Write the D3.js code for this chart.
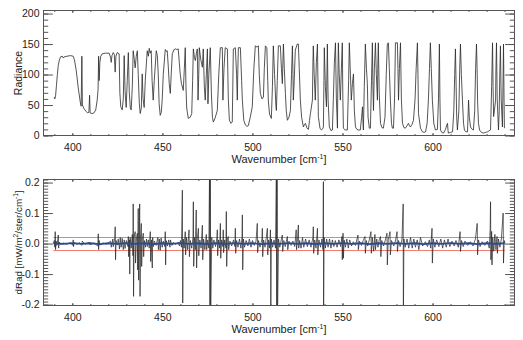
<!DOCTYPE html>
<html><head><meta charset="utf-8">
<script src="https://cdn.jsdelivr.net/npm/d3@7"></script>
<style>
body{margin:0;background:#fff}
svg text{font-family:"Liberation Sans",Arial,Helvetica,sans-serif;fill:#222}
</style>
</head><body>
<svg id="c" width="523" height="340"></svg>
<script>
// ---------- data ----------
const xMajorTicks = [400, 450, 500, 550, 600];
const xMajorLabels = ["400", "450", "500", "550", "600"];
const radianceTicks = [0, 50, 100, 150, 200];
const radianceTickLabels = ["0", "50", "100", "150", "200"];
const dRadTicks = [-0.2, -0.1, 0.0, 0.1, 0.2];
const dRadTickLabels = ["-0.2", "-0.1", "0.0", "0.1", "0.2"];
const thresholdLevels = [-0.02, 0.02];
const thresholdSpan = [389.5, 640];

// observed radiance spectrum [wavenumber, radiance]
const radianceSpectrum = [
[389.9,63],[390.3,60],[390.7,65],[391.2,82],[391.7,100],[392.2,115],[392.8,124],[393.5,129],[394.5,130],[395.0,127],[395.5,129],[397.0,130],[399.0,131],[400.5,130],[401.2,124],[402.2,106],[403.3,78],[404.4,55],[404.9,48],[405.3,130],[405.6,50],[406.5,44],[407.5,40],[408.5,37],[409.2,38],[409.6,66],[409.9,37],[411.0,36],[412.0,37],[413.0,42],[413.8,58],[414.3,75],[414.6,130],[414.9,90],[415.3,120],[415.8,130],[416.6,134],[418.3,135],[420.5,135],[421.3,127],[421.6,120],[422.0,131],[422.7,136],[423.3,133],[423.8,104],[424.2,130],[424.9,136],[426.0,134],[426.4,70],[426.9,47],[427.7,42],[428.3,60],[428.8,131],[429.3,72],[429.9,46],[430.5,90],[431.1,136],[431.6,72],[432.2,45],[432.7,42],[433.3,80],[433.8,139],[434.4,125],[434.9,111],[435.5,130],[436.1,139],[436.6,100],[437.2,52],[437.7,36],[438.3,45],[438.8,101],[439.3,60],[439.9,46],[440.5,90],[441.6,139],[442.2,130],[442.7,143],[443.2,135],[443.8,139],[444.3,90],[444.9,58],[445.5,90],[446.6,139],[447.2,131],[447.7,101],[448.2,52],[448.8,33],[449.4,38],[449.9,58],[450.5,100],[451.6,141],[452.2,138],[452.7,139],[453.3,112],[453.8,85],[454.4,69],[454.9,100],[455.5,134],[456.5,141],[457.2,142],[458.0,141],[458.8,142],[459.4,120],[459.9,101],[460.6,85],[461.6,74],[462.2,110],[462.7,144],[463.1,80],[463.5,45],[464.4,28],[465.5,30],[466.3,36],[466.8,90],[467.2,142],[467.8,128],[468.3,123],[468.9,135],[469.4,142],[469.8,58],[470.2,100],[470.5,144],[471.3,125],[472.2,112],[472.7,142],[473.3,80],[473.8,58],[474.4,100],[475.0,142],[475.3,52],[475.8,100],[476.6,144],[477.2,70],[477.8,30],[478.3,22],[479.2,28],[480.5,41],[481.3,100],[482.2,144],[483.3,144],[483.6,58],[484.2,110],[484.9,144],[486.1,142],[486.6,60],[487.2,25],[488.0,20],[488.8,22],[489.1,80],[489.4,142],[490.5,144],[491.2,100],[491.6,58],[491.9,110],[492.2,144],[493.3,144],[494.0,90],[494.4,58],[495.2,25],[496.1,17],[497.0,15],[497.7,16],[498.8,30],[499.9,47],[500.8,110],[501.6,147],[502.5,145],[503.3,147],[503.8,100],[504.4,69],[505.3,60],[506.1,63],[506.6,110],[507.2,147],[508.0,144],[508.5,90],[508.8,58],[509.5,35],[510.5,28],[511.1,80],[511.6,147],[512.3,100],[513.0,50],[513.3,41],[513.8,90],[514.4,147],[515.5,147],[516.1,110],[516.6,85],[517.0,130],[517.2,150],[517.7,110],[518.3,69],[518.8,40],[519.4,25],[520.3,30],[521.1,41],[521.7,100],[522.2,147],[522.5,100],[522.7,58],[523.2,90],[523.8,140],[524.9,150],[525.5,150],[526.0,110],[526.6,58],[527.3,30],[528.3,14],[528.9,18],[529.4,20],[530.3,12],[531.1,10],[531.7,25],[532.2,36],[533.3,58],[533.6,120],[533.8,147],[534.3,100],[534.9,58],[535.5,120],[536.1,150],[536.4,80],[536.6,31],[537.5,12],[538.3,9],[539.0,11],[539.4,14],[539.7,90],[539.9,144],[540.5,80],[541.1,47],[541.4,110],[541.6,150],[542.0,60],[542.7,14],[543.6,8],[544.4,9],[544.9,58],[545.5,120],[546.1,152],[546.6,60],[547.2,12],[547.4,80],[547.7,152],[548.2,100],[548.8,58],[549.4,110],[549.9,152],[550.2,60],[550.5,12],[551.5,9],[552.7,9],[553.4,90],[553.8,152],[554.4,100],[554.9,58],[555.5,85],[556.1,101],[556.6,40],[557.2,14],[558.0,10],[558.8,9],[559.9,9],[560.6,30],[561.1,47],[561.4,20],[561.6,9],[562.1,80],[562.7,150],[563.3,110],[563.8,85],[564.2,30],[564.9,12],[565.5,12],[566.1,90],[566.6,152],[566.9,80],[567.2,41],[567.7,110],[568.3,152],[568.8,100],[569.4,58],[569.6,110],[569.9,152],[570.4,70],[571.1,20],[571.9,13],[572.7,12],[573.6,30],[574.3,100],[574.9,150],[575.5,152],[576.0,110],[576.6,58],[577.2,20],[577.7,12],[578.3,12],[578.9,60],[579.4,152],[580.5,152],[580.8,110],[581.1,58],[581.6,110],[582.2,152],[582.7,60],[583.3,20],[584.1,13],[584.9,12],[585.8,16],[586.6,20],[587.2,16],[587.7,14],[588.6,18],[589.4,25],[590.3,60],[590.9,110],[591.6,152],[591.9,100],[592.2,36],[593.3,12],[594.4,6],[595.3,5],[596.1,6],[597.0,20],[597.7,58],[598.3,110],[598.8,152],[599.3,110],[599.9,58],[600.7,20],[601.6,9],[602.7,10],[603.3,60],[603.8,150],[604.1,60],[604.4,9],[605.2,5],[606.1,4],[607.2,10],[608.0,18],[608.3,20],[608.6,8],[608.8,4],[610.0,5],[611.1,6],[611.8,40],[612.3,100],[612.7,142],[613.1,80],[613.4,30],[613.8,9],[614.6,40],[615.1,110],[615.5,150],[616.0,100],[616.6,58],[617.2,20],[617.7,9],[618.5,6],[619.4,6],[619.8,40],[620.0,58],[620.4,30],[621.1,14],[622.0,10],[622.7,9],[623.4,40],[623.9,110],[624.4,150],[624.8,100],[625.0,58],[625.5,20],[626.1,9],[627.2,5],[628.3,4],[629.4,5],[630.5,6],[631.5,8],[632.2,9],[632.8,80],[633.3,152],[633.6,80],[633.9,31],[634.5,45],[635.0,58],[635.2,110],[635.5,152],[635.9,60],[636.6,9],[637.0,40],[637.4,110],[637.7,147],[638.1,60],[638.8,14],[639.1,80],[639.4,150],[639.7,60],[639.9,12]
];

// radiance residual [wavenumber, dRad]
const residualSpectrum = [
[389.5,0],[390.0,0.01],[390.3,-0.012],[390.5,0.039],[390.7,-0.02],[391.0,0.008],[391.4,-0.006],[392.0,0.015],[392.2,0.028],[392.4,-0.015],[392.7,0.005],[393.5,-0.003],[395,0.002],[397,-0.002],[399,0.003],[400.2,-0.006],[400.5,0.012],[400.7,-0.01],[401,0.004],[402.5,-0.003],[404,0.003],[405.3,-0.006],[405.5,0.008],[407,-0.002],[409.6,0.004],[409.8,-0.004],[412,0.002],[414.2,-0.008],[414.4,0.032],[414.6,-0.02],[414.9,0.01],[415.3,-0.005],[417,0.002],[419,-0.002],[421.3,0.008],[421.6,-0.012],[422.5,0.015],[422.7,-0.01],[423.6,0.02],[423.8,0.055],[424.0,-0.053],[424.3,0.01],[425,-0.005],[425.5,0.015],[426.2,-0.018],[426.6,0.02],[427.1,-0.012],[427.7,0.017],[428.3,-0.02],[428.8,0.012],[429.3,-0.016],[430,0.01],[430.9,-0.01],[431.1,0.023],[431.3,-0.043],[431.7,0.012],[431.9,-0.10],[432.1,0.02],[432.7,-0.015],[433.3,0.03],[433.7,-0.04],[433.8,0.13],[434.0,-0.173],[434.3,0.02],[434.9,0.039],[435.1,-0.064],[435.6,0.015],[436.1,0.034],[436.3,-0.086],[436.6,0.115],[436.8,-0.12],[437.2,0.02],[437.4,0.13],[437.6,-0.173],[437.9,0.02],[438.3,0.066],[438.5,-0.075],[438.9,0.015],[439.4,0.034],[439.6,-0.043],[440.0,0.01],[440.6,-0.012],[441.2,0.015],[441.6,-0.01],[442.2,0.012],[442.7,-0.015],[443.3,0.039],[443.5,-0.059],[443.9,0.012],[444.4,-0.08],[444.6,0.02],[445,-0.01],[445.6,0.008],[446.5,-0.006],[447.5,0.02],[447.8,-0.02],[448.3,0.015],[448.8,-0.022],[449.3,0.018],[449.9,-0.012],[450.5,0.008],[451.4,-0.01],[451.6,0.039],[451.8,-0.07],[452.1,0.01],[452.8,-0.008],[453.5,0.012],[454.2,-0.012],[454.5,0.012],[455.3,-0.006],[456,0.004],[457.5,-0.003],[458.8,0.005],[459.5,-0.008],[460,0.01],[460.6,-0.012],[461.1,0.175],[461.3,-0.195],[461.6,0.015],[462.1,-0.015],[462.7,0.039],[462.9,-0.037],[463.4,0.02],[464,-0.02],[464.8,0.045],[465.0,-0.043],[465.5,0.01],[466.3,-0.015],[467.0,0.02],[467.2,0.137],[467.4,-0.075],[467.8,0.02],[468.3,-0.02],[468.8,0.11],[469.0,-0.08],[469.4,0.015],[470,0.05],[470.2,-0.04],[470.8,0.012],[471.5,-0.015],[472.2,0.06],[472.4,-0.053],[472.9,0.015],[473.6,-0.02],[474.4,0.03],[474.6,-0.02],[475.2,0.012],[475.8,-0.015],[476.2,0.25],[476.4,-0.25],[476.6,0.25],[476.8,-0.25],[477.4,0.02],[478,-0.015],[478.6,0.012],[479.5,-0.01],[480.3,0.02],[480.5,0.045],[480.7,-0.04],[481.2,0.012],[481.8,-0.015],[482.2,0.066],[482.4,-0.048],[482.9,0.012],[483.6,-0.01],[483.8,0.045],[484.0,-0.03],[484.6,0.012],[485.3,-0.015],[485.5,0.105],[485.7,-0.075],[486.1,0.015],[486.6,0.023],[486.8,-0.02],[487.5,0.008],[488.5,-0.008],[489.5,0.012],[490.3,-0.01],[490.5,0.05],[490.7,-0.032],[491.2,0.01],[492,-0.012],[492.8,0.015],[493.6,-0.015],[494.2,0.02],[494.4,0.094],[494.6,-0.086],[495,0.015],[495.6,-0.012],[496.5,0.01],[497.5,-0.008],[498.3,0.015],[499.2,-0.012],[500,0.01],[501,-0.006],[502,0.008],[502.7,0.066],[502.9,-0.03],[503.4,0.01],[504.2,-0.012],[505.3,0.015],[505.5,0.05],[505.7,-0.043],[506.2,0.012],[507,-0.012],[507.6,0.015],[508.3,0.05],[508.5,-0.037],[509,0.012],[509.6,-0.015],[510,0.045],[510.2,-0.25],[510.5,0.015],[511.2,-0.012],[512,0.012],[512.8,-0.015],[513.3,0.25],[513.5,-0.25],[513.7,0.25],[513.9,-0.25],[514.5,0.015],[515.2,-0.012],[516,0.012],[516.6,0.028],[516.8,-0.026],[517.4,0.01],[518.2,-0.01],[519.4,0.023],[519.6,-0.02],[520.3,0.008],[521.5,-0.006],[522.5,0.008],[523.5,-0.01],[524.3,0.045],[524.5,-0.02],[525,0.012],[525.5,0.061],[525.7,-0.015],[526.2,0.01],[527,-0.015],[527.8,0.02],[528.5,-0.012],[529.5,0.015],[530.5,-0.01],[531.5,0.012],[532.5,-0.012],[533.6,0.02],[533.8,0.055],[534.0,-0.032],[534.6,0.012],[535.3,-0.015],[536.1,0.05],[536.3,-0.037],[536.9,0.012],[537.8,-0.012],[538.6,0.015],[539.2,-0.02],[539.4,0.203],[539.5,-0.25],[539.8,0.02],[540.5,-0.015],[541.2,0.015],[542,-0.012],[542.8,0.015],[543.6,-0.015],[544.4,0.012],[545.2,-0.01],[546,0.01],[547,-0.012],[548,0.012],[549.0,-0.01],[549.7,0.023],[549.9,-0.053],[550.3,0.034],[550.5,-0.048],[550.9,0.012],[551.6,-0.012],[552.4,0.015],[553.2,-0.015],[554,0.012],[555,-0.008],[556,0.006],[557.2,-0.006],[558.6,0.028],[558.8,-0.02],[559.4,0.008],[560.5,-0.006],[561.5,0.01],[562.5,0.023],[562.7,-0.032],[563.2,0.01],[564,-0.008],[565,0.015],[565.8,0.039],[566.0,-0.032],[566.6,0.02],[567.3,-0.025],[568,0.03],[568.3,-0.02],[569,0.015],[569.7,-0.012],[570.4,0.012],[571.1,0.023],[571.3,-0.043],[571.8,0.01],[572.8,-0.008],[573.8,0.012],[574.7,0.034],[574.9,-0.07],[575.4,0.012],[576.4,0.039],[576.6,-0.037],[577.2,0.01],[578.5,-0.008],[579.5,0.012],[580.3,0.039],[580.5,-0.026],[581.1,0.01],[582,-0.01],[583,0.012],[583.7,0.13],[583.8,-0.25],[584.1,0.015],[584.8,-0.012],[585.8,0.015],[586.8,-0.015],[587.8,0.02],[588.7,-0.015],[589.6,0.015],[590.5,-0.012],[591.5,0.012],[592.4,-0.02],[593.3,0.02],[594.5,-0.008],[596,0.006],[597.2,-0.01],[598.2,0.012],[599.0,-0.015],[599.7,0.05],[599.9,-0.064],[600.4,0.015],[601.3,-0.012],[602.3,0.012],[603.5,-0.01],[604.6,0.015],[605.6,-0.015],[606.6,0.012],[607.6,-0.012],[608.6,0.015],[609.6,-0.01],[610.8,0.008],[612,-0.008],[613,0.01],[614.3,-0.012],[615.3,0.039],[615.5,-0.026],[616.1,0.01],[617,-0.01],[618,0.008],[619.5,-0.006],[621,0.006],[622.5,-0.008],[623.8,0.015],[624.8,0.066],[625.0,-0.037],[625.5,0.012],[626.4,-0.01],[627.5,0.006],[629,-0.006],[630.5,0.008],[631.5,-0.015],[632.0,0.05],[632.2,0.137],[632.4,-0.053],[632.8,0.04],[633.0,-0.07],[633.4,0.02],[634.0,-0.025],[634.6,0.03],[635.2,-0.02],[635.8,0.023],[636.0,-0.032],[636.6,0.015],[637.4,-0.012],[638.2,0.015],[639.2,0.1],[639.4,-0.064],[639.8,0.01],[640.2,0]
];

// smoothed residual (blue) [wavenumber, dRad]
const residualMean = [
[389.5,0.001],[395,-0.001],[400,0.0015],[405,-0.001],[410,0.001],[415,-0.0015],[420,0.001],[425,-0.001],[430,0.0015],[435,-0.001],[440,0.001],[445,-0.0015],[450,0.001],[455,-0.001],[460,0.0015],[465,-0.001],[470,0.001],[475,-0.0015],[480,0.001],[485,-0.001],[490,0.0015],[495,-0.001],[500,0.001],[505,-0.0015],[510,0.001],[515,-0.001],[520,0.0015],[525,-0.001],[530,0.001],[535,-0.0015],[540,0.001],[545,-0.001],[550,0.0015],[555,-0.001],[560,0.001],[565,-0.0015],[570,0.001],[575,-0.001],[580,0.0015],[585,-0.001],[590,0.001],[595,-0.0015],[600,0.001],[605,-0.001],[610,0.0015],[615,-0.001],[620,0.001],[625,-0.0015],[630,0.001],[635,-0.001],[640,0.001]
];

// ---------- drawing ----------
const svg = d3.select("#c");
const L = 43.5, R = 514.5;
const x = d3.scaleLinear().domain([384, 645.5]).range([L, R]);
const xMinor = d3.range(390, 645, 10);

const top1 = 10.5, bot1 = 135.5, top2 = 179.5, bot2 = 305.5;
const yRad = d3.scaleLinear().domain([0, 205]).range([bot1, top1]);
const yRes = d3.scaleLinear().domain([-0.203, 0.21]).range([bot2, top2]);

const AX = "#555";
const FS = 10.5;

function styleAxis(g) {
  g.select(".domain").remove();
  g.selectAll(".tick line").attr("stroke", AX).attr("stroke-width", 1);
  g.selectAll("text").attr("font-size", FS).attr("fill", "#222");
  g.attr("font-family", null).attr("font-size", null);
}

function frame(y, top, bot, yMajor, yLabels, yMinor) {
  const g = svg.append("g");
  g.append("g").attr("transform", `translate(0,${bot})`)
    .call(d3.axisBottom(x).tickValues(xMinor).tickSize(-1.5).tickFormat("")).call(styleAxis);
  g.append("g").attr("transform", `translate(0,${bot})`)
    .call(d3.axisBottom(x).tickValues(xMajorTicks).tickSize(-2.5).tickPadding(8.5)
      .tickFormat((d, i) => xMajorLabels[i])).call(styleAxis);
  g.append("g").attr("transform", `translate(0,${top})`)
    .call(d3.axisTop(x).tickValues(xMinor).tickSize(-1.5).tickFormat("")).call(styleAxis);
  g.append("g").attr("transform", `translate(0,${top})`)
    .call(d3.axisTop(x).tickValues(xMajorTicks).tickSize(-2.5).tickFormat("")).call(styleAxis);
  g.append("g").attr("transform", `translate(${L},0)`)
    .call(d3.axisLeft(y).tickValues(yMinor).tickSize(-4.7).tickFormat("")).call(styleAxis);
  g.append("g").attr("transform", `translate(${L},0)`)
    .call(d3.axisLeft(y).tickValues(yMajor).tickSize(-9.4).tickPadding(4)
      .tickFormat((d, i) => yLabels[i])).call(styleAxis);
  g.append("g").attr("transform", `translate(${R},0)`)
    .call(d3.axisRight(y).tickValues(yMinor).tickSize(-4.7).tickFormat("")).call(styleAxis);
  g.append("g").attr("transform", `translate(${R},0)`)
    .call(d3.axisRight(y).tickValues(yMajor).tickSize(-9.4).tickFormat("")).call(styleAxis);
  g.append("rect").attr("x", L).attr("y", top).attr("width", R - L).attr("height", bot - top)
    .attr("fill", "none").attr("stroke", AX).attr("stroke-width", 1);
}

function xTitle(yBase) {
  const t = svg.append("text").attr("x", (L + R) / 2).attr("y", yBase)
    .attr("text-anchor", "middle").attr("font-size", 11);
  t.append("tspan").text("Wavenumber [cm");
  t.append("tspan").attr("font-size", 7).attr("dy", -4).text("-1");
  t.append("tspan").attr("dy", 4).text("]");
}

const defs = svg.append("defs");
defs.append("clipPath").attr("id", "clipTop").append("rect")
  .attr("x", L).attr("y", top1).attr("width", R - L).attr("height", bot1 - top1);
defs.append("clipPath").attr("id", "clipBot").append("rect")
  .attr("x", L).attr("y", top2).attr("width", R - L).attr("height", bot2 - top2);

// ---- top panel ----
svg.append("path").datum(radianceSpectrum)
  .attr("clip-path", "url(#clipTop)")
  .attr("fill", "none").attr("stroke", "#2a2a2a").attr("stroke-width", 0.8)
  .attr("stroke-linejoin", "round")
  .attr("d", d3.line().x(d => x(d[0])).y(d => yRad(d[1])));

frame(yRad, top1, bot1, radianceTicks, radianceTickLabels, d3.range(0, 205, 10));
xTitle(163);
svg.append("text").attr("transform", `translate(22,${(top1 + bot1) / 2}) rotate(-90)`)
  .attr("text-anchor", "middle").attr("font-size", 10.5).text("Radiance");

// ---- bottom panel ----
const gb = svg.append("g").attr("clip-path", "url(#clipBot)");
gb.selectAll("line.thr").data(thresholdLevels).join("line").attr("class", "thr")
  .attr("x1", x(thresholdSpan[0])).attr("x2", x(thresholdSpan[1]))
  .attr("y1", d => Math.round(yRes(d)) + 0.5).attr("y2", d => Math.round(yRes(d)) + 0.5)
  .attr("stroke", "#ee7f72").attr("stroke-width", 1);
gb.append("path").datum(residualSpectrum)
  .attr("fill", "none").attr("stroke", "#222").attr("stroke-width", 0.7)
  .attr("d", d3.line().x(d => x(d[0])).y(d => yRes(d[1])));
gb.append("path").datum(residualMean)
  .attr("fill", "none").attr("stroke", "#2a4896").attr("stroke-width", 1.8)
  .attr("d", d3.line().x(d => x(d[0])).y(d => yRes(d[1])));

frame(yRes, top2, bot2, dRadTicks, dRadTickLabels, d3.range(-0.2, 0.2101, 0.01).map(v => +v.toFixed(2)));
xTitle(333);
const yt = svg.append("text").attr("transform", `translate(22,${(top2 + bot2) / 2}) rotate(-90)`)
  .attr("text-anchor", "middle").attr("font-size", 9.8);
yt.append("tspan").text("dRad [mW/m");
yt.append("tspan").attr("font-size", 6.5).attr("dy", -4).text("2");
yt.append("tspan").attr("dy", 4).text("/ster/cm");
yt.append("tspan").attr("font-size", 6.5).attr("dy", -4).text("-1");
yt.append("tspan").attr("dy", 4).text("]");
</script>
</body></html>
